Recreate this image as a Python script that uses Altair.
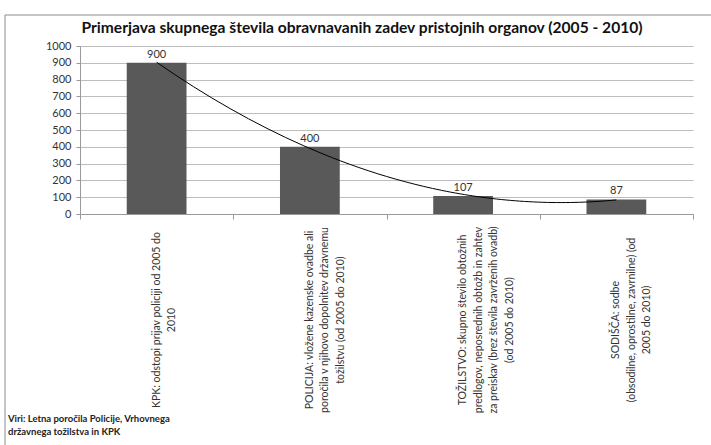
import altair as alt
import pandas as pd

# Category labels (multi-line) and totals per authority, 2005-2010
categories = [
    "KPK: odstopi prijav policiji od 2005 do\n2010",
    "POLICIJA: vložene kazenske ovadbe ali\nporočila v njihovo dopolnitev državnemu\ntožilstvu (od 2005 do 2010)",
    "TOŽILSTVO: skupno število obtožnih\npredlogov, neposrednih obtožb in zahtev\nza preiskav (brez števila zavrženih ovadb)\n(od 2005 do 2010)",
    "SODIŠČA: sodbe\n(obsodilne, oprostilne, zavrnilne)  (od\n2005 do 2010)",
]
values = [900, 400, 107, 87]
positions = [1, 2, 3, 4]
y_ticks = [0, 100, 200, 300, 400, 500, 600, 700, 800, 900, 1000]

title_text = "Primerjava skupnega števila obravnavanih zadev pristojnih organov (2005 - 2010)"
source_text = "Viri: Letna poročila Policije, Vrhovnega\ndržavnega tožilstva in KPK"

df = pd.DataFrame({"pos": positions, "label": categories, "value": values})

FONT = "Lato"
BAR_HALF = 0.195
W, H = 613, 168

x_scale = alt.Scale(domain=[0.5, 4.5], nice=False, zero=False)
y_scale = alt.Scale(domain=[0, 1000], nice=False, zero=True)

x_axis = alt.Axis(
    values=[0.5, 1.5, 2.5, 3.5, 4.5], labels=False, grid=False, title=None,
    domainColor="#9a9a9a", tickColor="#9a9a9a", tickSize=5,
)
y_axis = alt.Axis(
    values=y_ticks, format="d", title=None, grid=True, gridColor="#bdbdbd",
    domainColor="#9a9a9a", tickColor="#9a9a9a", tickSize=4, labelOverlap=False,
    labelFont=FONT, labelFontSize=11, labelColor="#333333", labelPadding=5,
)

X_POS = alt.X("pos:Q", scale=x_scale, axis=x_axis)
Y_VAL = alt.Y("value:Q", scale=y_scale, axis=y_axis)

base = alt.Chart(df)

bars = base.transform_calculate(
    x0=f"datum.pos - {BAR_HALF}", x1=f"datum.pos + {BAR_HALF}"
).mark_bar(color="#595959").encode(
    x=alt.X("x0:Q", scale=x_scale, axis=x_axis),
    x2="x1:Q",
    y=Y_VAL,
    y2=alt.datum(0),
)

value_labels = base.mark_text(
    baseline="bottom", dy=-3, font=FONT, fontSize=11, color="#333333"
).encode(x=X_POS, y=Y_VAL, text="value:Q")

# second-order polynomial trend through the four totals
trend = base.transform_regression(
    "pos", "value", method="poly", order=2, extent=[1, 4]
).mark_line(color="#000000", strokeWidth=1, interpolate="monotone").encode(
    x=X_POS, y=Y_VAL
)

cat_labels = base.mark_text(
    angle=270, align="center", baseline="middle", lineBreak="\n",
    lineHeight=15.5, font=FONT, fontSize=10.5, color="#333333",
).encode(x=X_POS, y=alt.value(274), text="label:N")

one_row = alt.Data(values=[{"t": title_text, "s": source_text}])

title = alt.Chart(one_row).mark_text(
    align="center", baseline="middle", font=FONT, fontSize=15.6,
    fontWeight="bold", color="#111111",
).encode(x=alt.value(282), y=alt.value(-18), text="t:N")

source = alt.Chart(one_row).mark_text(
    align="left", baseline="middle", lineBreak="\n", lineHeight=13,
    font=FONT, fontSize=9.5, fontWeight="bold", color="#222222",
).encode(x=alt.value(-72), y=alt.value(373), text="s:N")

frame = alt.Chart(one_row).mark_rect(
    fill=None, stroke="#8c8c8c", strokeWidth=1
).encode(x=alt.value(-75), x2=alt.value(700), y=alt.value(-31), y2=alt.value(460))

chart = alt.layer(bars, trend, value_labels, cat_labels, title, source, frame).properties(
    width=W,
    height=H,
    padding={"left": 80, "top": 46, "right": 18, "bottom": 231},
    autosize=alt.AutoSizeParams(type="none"),
    background="white",
).configure_view(stroke=None)

chart.save("out.html", embed_options={"renderer": "svg", "actions": False})
